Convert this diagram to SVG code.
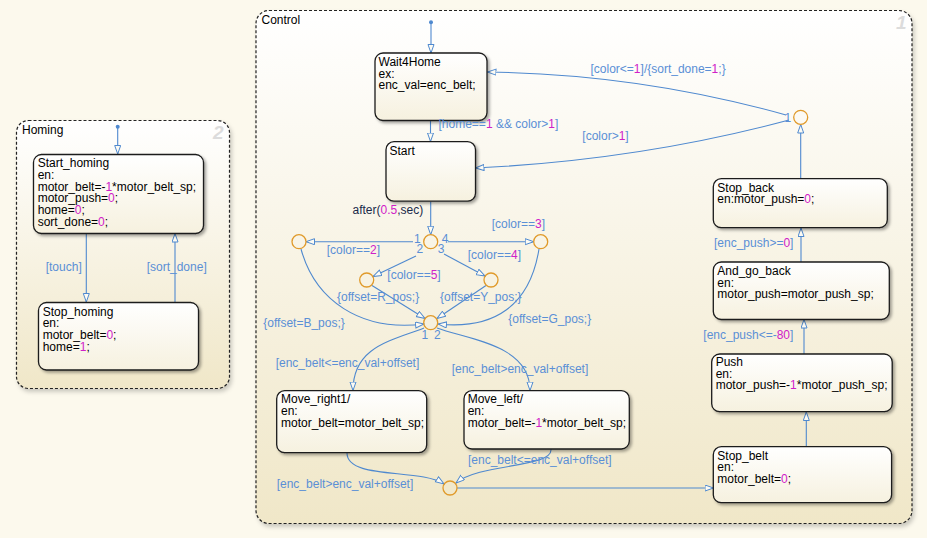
<svg xmlns="http://www.w3.org/2000/svg" width="927" height="538" viewBox="0 0 927 538">
<defs>
<linearGradient id="chartG" x1="0" y1="0" x2="0" y2="1">
<stop offset="0" stop-color="#ffffff"/>
<stop offset="1" stop-color="#f0e7c8"/>
</linearGradient>
<linearGradient id="stateG" x1="0" y1="0" x2="0" y2="1">
<stop offset="0" stop-color="#ffffff"/>
<stop offset="1" stop-color="#f6f1df"/>
</linearGradient>
<filter id="sh" x="-10%" y="-10%" width="130%" height="130%">
<feDropShadow dx="2" dy="2" stdDeviation="1.5" flood-color="#000" flood-opacity="0.35"/>
</filter>
<filter id="shc" x="-5%" y="-5%" width="110%" height="110%">
<feDropShadow dx="2" dy="3" stdDeviation="2" flood-color="#000" flood-opacity="0.2"/>
</filter>
<marker id="arr" markerWidth="10" markerHeight="8" refX="9" refY="3.5" orient="auto" markerUnits="userSpaceOnUse">
<path d="M0.5,0.5 L9,3.5 L0.5,6.5 z" fill="#fdfbf3" stroke="#4f89cf" stroke-width="1"/>
</marker>
</defs>
<style>
.chart{fill:url(#chartG);stroke:#222;stroke-width:1.2;stroke-dasharray:3,2;filter:url(#shc)}
.state{fill:url(#stateG);stroke:#1a1a1a;stroke-width:1.3;filter:url(#sh)}
.st{font-family:"Liberation Sans",Arial,sans-serif;font-size:12px;fill:#000}
.lb{font-family:"Liberation Sans",Arial,sans-serif;font-size:12px;fill:#5a8fd6}
.num{fill:#d020c8}
.tr{fill:none;stroke:#4f89cf;stroke-width:1.1;marker-end:url(#arr)}
.ln{fill:none;stroke:#4f89cf;stroke-width:1.1}
.jn{fill:none;stroke:#e09a2a;stroke-width:1.3}
.big{font-family:"Liberation Sans",Arial,sans-serif;font-size:19px;font-weight:bold;font-style:italic;fill:#dcdcdc}
.ttl{font-family:"Liberation Sans",Arial,sans-serif;font-size:12px;fill:#000}
</style>
<rect x="0" y="0" width="927" height="538" fill="#fcf9ed"/>

<g id="Homing">
<rect class="chart" x="16.5" y="120.5" width="213" height="268" rx="12"/>
<text class="ttl" x="22" y="133.5">Homing</text>
<text class="big" x="213" y="139">2</text>
</g>
<g id="Control">
<rect class="chart" x="256" y="10.5" width="656" height="513" rx="13"/>
<text class="ttl" x="261.5" y="23.5">Control</text>
<text class="big" x="896" y="29">1</text>
</g>

<g id="connectors">
<circle cx="117.7" cy="126.7" r="2" fill="#4f89cf"/>
<path class="tr" d="M117.7,127 L117.7,154"/>
<path class="tr" d="M86.3,233.5 L86.3,302"/>
<path class="tr" d="M175,302 L175,233.5"/>
<circle cx="431" cy="22.3" r="2" fill="#4f89cf"/>
<path class="tr" d="M431,23 L431,53"/>
<path class="tr" d="M430.5,120.5 L430.5,141.5"/>
<path class="tr" d="M786,115 Q 640,74 487.5,72"/>
<path class="tr" d="M789,120 Q 640,160 475.5,168"/>
<path class="tr" d="M800.7,178.7 L800.7,124.5"/>
<path class="tr" d="M801,262 L801,228"/>
<path class="tr" d="M804,354 L804,319.5"/>
<path class="tr" d="M806.3,446.7 L806.3,412"/>
<path class="tr" d="M457,488 L713.5,488"/>
<path class="tr" d="M347,453 C 347,480 420,468 444,484"/>
<path class="tr" d="M551,449 C 553,468 480,463 456,483"/>
<path class="tr" d="M430.7,201.5 L430.7,234.7"/>
<path class="tr" d="M413,241.7 L306,241.7"/>
<path class="tr" d="M448,241.7 L533.7,241.7"/>
<path class="tr" d="M416,256 L373,276.5"/>
<path class="tr" d="M444,254 L485,276"/>
<path class="tr" d="M372,285.5 L425,318.5"/>
<path class="tr" d="M486,285.5 L437,318.5"/>
<path class="tr" d="M301,249 C 315,300 360,332 424,324"/>
<path class="tr" d="M539,249 C 530,305 495,330 438,324"/>
<path class="tr" d="M424,328 C 395,340 353,345 353,390.5"/>
<path class="tr" d="M437,328 C 470,340 530,345 530,390.5"/>
</g>

<g id="Start_homing">
<rect class="state" x="33.5" y="154.5" width="170" height="79" rx="8"/>
<text class="st" x="37.7" y="167.3">Start_homing</text>
<text class="st" x="37.7" y="179">en:</text>
<text class="st" x="37.7" y="190.7">motor_belt=-<tspan class="num">1</tspan>*motor_belt_sp;</text>
<text class="st" x="37.7" y="202.4">motor_push=<tspan class="num">0</tspan>;</text>
<text class="st" x="37.7" y="214.2">home=<tspan class="num">0</tspan>;</text>
<text class="st" x="37.7" y="226">sort_done=<tspan class="num">0</tspan>;</text>
</g>
<g id="Stop_homing">
<rect class="state" x="38.5" y="302.5" width="160" height="67.5" rx="8"/>
<text class="st" x="42.7" y="315.7">Stop_homing</text>
<text class="st" x="42.7" y="327.4">en:</text>
<text class="st" x="42.7" y="339.1">motor_belt=<tspan class="num">0</tspan>;</text>
<text class="st" x="42.7" y="350.8">home=<tspan class="num">1</tspan>;</text>
</g>
<g id="Wait4Home">
<rect class="state" x="375" y="53" width="112" height="67.5" rx="8"/>
<text class="st" x="378.5" y="66">Wait4Home</text>
<text class="st" x="378.5" y="77.7">ex:</text>
<text class="st" x="378.5" y="89.4">enc_val=enc_belt;</text>
</g>
<g id="Start">
<rect class="state" x="386" y="141.7" width="89.5" height="59.5" rx="8"/>
<text class="st" x="389.5" y="154.5">Start</text>
</g>
<g id="Stop_back">
<rect class="state" x="713.3" y="178.7" width="174" height="49" rx="8"/>
<text class="st" x="717.3" y="191.7">Stop_back</text>
<text class="st" x="717.3" y="203.4">en:motor_push=<tspan class="num">0</tspan>;</text>
</g>
<g id="And_go_back">
<rect class="state" x="713.3" y="262" width="176" height="57.5" rx="8"/>
<text class="st" x="717.3" y="274.8">And_go_back</text>
<text class="st" x="717.3" y="286.5">en:</text>
<text class="st" x="717.3" y="298.2">motor_push=motor_push_sp;</text>
</g>
<g id="Push">
<rect class="state" x="711.7" y="354" width="180.5" height="57.7" rx="8"/>
<text class="st" x="715.7" y="366">Push</text>
<text class="st" x="715.7" y="377.7">en:</text>
<text class="st" x="715.7" y="389.4">motor_push=-<tspan class="num">1</tspan>*motor_push_sp;</text>
</g>
<g id="Stop_belt">
<rect class="state" x="713.3" y="446.7" width="178.3" height="56" rx="8"/>
<text class="st" x="717.3" y="459.7">Stop_belt</text>
<text class="st" x="717.3" y="471.4">en:</text>
<text class="st" x="717.3" y="483.1">motor_belt=<tspan class="num">0</tspan>;</text>
</g>
<g id="Move_right1">
<rect class="state" x="276.7" y="390.7" width="150" height="62" rx="8"/>
<text class="st" x="281" y="403.3">Move_right1/</text>
<text class="st" x="281" y="415">en:</text>
<text class="st" x="281" y="426.7">motor_belt=motor_belt_sp;</text>
</g>
<g id="Move_left">
<rect class="state" x="464" y="390.7" width="165.3" height="58.3" rx="8"/>
<text class="st" x="467.7" y="403.3">Move_left/</text>
<text class="st" x="467.7" y="415">en:</text>
<text class="st" x="467.7" y="426.7">motor_belt=-<tspan class="num">1</tspan>*motor_belt_sp;</text>
</g>

<g id="junctions">
<circle class="jn" cx="800.7" cy="117.3" r="7"/>
<circle class="jn" cx="430.7" cy="241.7" r="7"/>
<circle class="jn" cx="299" cy="241.7" r="7"/>
<circle class="jn" cx="540.7" cy="241.7" r="7"/>
<circle class="jn" cx="366.7" cy="280" r="7"/>
<circle class="jn" cx="491" cy="280" r="7"/>
<circle class="jn" cx="430.7" cy="322.7" r="7"/>
<circle class="jn" cx="450" cy="488" r="7"/>
</g>

<g id="labels">
<text class="lb" x="784.5" y="121.5">1</text>
<text class="lb" x="414" y="243">1</text>
<text class="lb" x="416.5" y="253.3">2</text>
<text class="lb" x="441.7" y="243">4</text>
<text class="lb" x="437.7" y="253.3">3</text>
<text class="lb" x="421.5" y="338.5">1</text>
<text class="lb" x="434" y="338.5">2</text>
<text class="lb" x="45.7" y="271">[touch]</text>
<text class="lb" x="146.7" y="271">[sort_done]</text>
<text class="lb" x="438.5" y="127.5">[home==<tspan class="num">1</tspan> &amp;&amp; color&gt;<tspan class="num">1</tspan>]</text>
<text class="lb" x="590.5" y="72.5">[color&lt;=<tspan class="num">1</tspan>]/{sort_done=<tspan class="num">1</tspan>;}</text>
<text class="lb" x="582.3" y="140">[color&gt;<tspan class="num">1</tspan>]</text>
<text class="lb" x="352.5" y="214"><tspan fill="#1a2a4a">after(</tspan><tspan class="num">0.5</tspan><tspan fill="#1a2a4a">,sec)</tspan></text>
<text class="lb" x="326.7" y="254">[color==<tspan class="num">2</tspan>]</text>
<text class="lb" x="491.7" y="228">[color==<tspan class="num">3</tspan>]</text>
<text class="lb" x="387.3" y="279">[color==<tspan class="num">5</tspan>]</text>
<text class="lb" x="467.7" y="259">[color==<tspan class="num">4</tspan>]</text>
<text class="lb" x="337" y="300.7">{offset=R_pos;}</text>
<text class="lb" x="440" y="300.7">{offset=Y_pos;}</text>
<text class="lb" x="263.3" y="326.7">{offset=B_pos;}</text>
<text class="lb" x="508.3" y="323.3">{offset=G_pos;}</text>
<text class="lb" x="275.7" y="366.7">[enc_belt&lt;=enc_val+offset]</text>
<text class="lb" x="451.7" y="373.3">[enc_belt&gt;enc_val+offset]</text>
<text class="lb" x="276.7" y="488">[enc_belt&gt;enc_val+offset]</text>
<text class="lb" x="468" y="464">[enc_belt&lt;=enc_val+offset]</text>
<text class="lb" x="714" y="246.7">[enc_push&gt;=<tspan class="num">0</tspan>]</text>
<text class="lb" x="703.3" y="339.3">[enc_push&lt;=-<tspan class="num">80</tspan>]</text>
</g>
</svg>
